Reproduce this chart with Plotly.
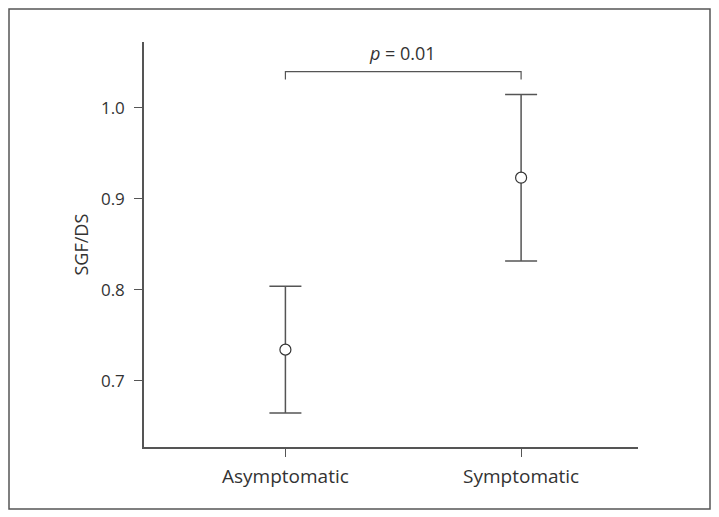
import plotly.graph_objects as go

categories = ["Asymptomatic", "Symptomatic"]
cat_pos = [0, 1]
means = [0.734, 0.923]
errors = [0.0696, 0.0915]
y_ticks = [0.7, 0.8, 0.9, 1.0]
bracket_y = 1.0396
bracket_drop = 1.031
p_label = "<i>p</i> = 0.01"
p_y = 1.0597
y_title = "SGF/DS"

line_col = "#555555"
text_col = "#333333"
font_family = "Open Sans, Noto Sans, sans-serif"

W, H = 703, 502
L, R, T, B = 136, 73, 34, 63
PW, PH = W - L - R, H - T - B

fig = go.Figure()
fig.add_trace(go.Scatter(
    x=cat_pos, y=means, mode="markers",
    marker=dict(symbol="circle", size=11, color="white",
                line=dict(color=text_col, width=1.2)),
    error_y=dict(type="data", array=errors, visible=True,
                 color=line_col, thickness=1.5, width=16),
    showlegend=False,
))

fig.add_trace(go.Scatter(
    x=[cat_pos[0], cat_pos[0], cat_pos[1], cat_pos[1]],
    y=[bracket_drop, bracket_y, bracket_y, bracket_drop],
    mode="lines", line=dict(color=line_col, width=1.2),
    showlegend=False, hoverinfo="skip",
))

fig.add_annotation(x=(cat_pos[0] + cat_pos[1]) / 2 - 0.005, y=p_y, text=p_label,
                   showarrow=False, xref="x", yref="y", yanchor="middle",
                   font=dict(size=18, color=text_col, family=font_family))

fig.add_annotation(x=(72 - L) / PW, y=0.5, xref="paper", yref="paper",
                   text=y_title, textangle=-90, showarrow=False,
                   xanchor="center", yanchor="middle",
                   font=dict(size=18, color=text_col, family=font_family))

fig.update_layout(
    width=W, height=H,
    margin=dict(l=L, r=R, t=T, b=B),
    plot_bgcolor="white", paper_bgcolor="white",
    font=dict(family=font_family, size=17, color=text_col),
    xaxis=dict(range=[-0.6, 1.496], tickvals=cat_pos, ticktext=categories,
               showline=True, linecolor=line_col, linewidth=1.5,
               ticks="outside", ticklen=8, tickcolor=line_col, tickwidth=1.2,
               tickfont=dict(size=19), ticklabelstandoff=3,
               showgrid=False, zeroline=False),
    yaxis=dict(range=[0.627, 1.0721], tickvals=y_ticks,
               ticktext=[f"{v:.1f}" for v in y_ticks],
               showline=True, linecolor=line_col, linewidth=1.5,
               ticks="outside", ticklen=8, tickcolor=line_col, tickwidth=1.2,
               tickfont=dict(size=17), ticklabelstandoff=6,
               showgrid=False, zeroline=False),
    shapes=[dict(type="rect", xref="paper", yref="paper",
                 x0=(1 - L) / PW, x1=(W - 1 - L) / PW,
                 y0=-(B - 1) / PH, y1=(PH + T - 1) / PH,
                 line=dict(color=line_col, width=1.5))],
)

fig.write_html("out.html")
